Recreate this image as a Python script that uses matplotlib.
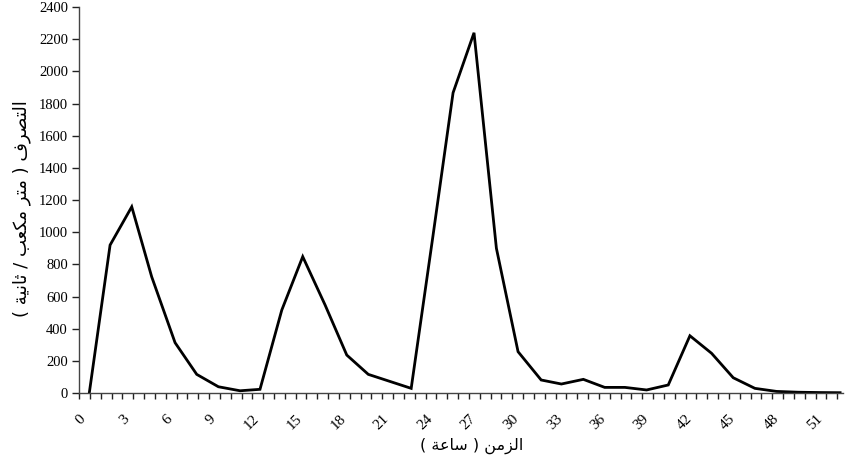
import matplotlib
matplotlib.use("Agg")
import matplotlib.pyplot as plt
from matplotlib.ticker import MultipleLocator

# ---- data ----
hours = [0.71, 2.15, 3.65, 5.03, 6.65, 8.15, 9.65, 11.15, 12.53, 14.04, 15.49,
         17.04, 18.54, 20.03, 23.0, 24.5, 25.9, 27.35, 28.9, 30.4, 32.0, 33.4,
         34.92, 36.4, 37.8, 39.3, 40.8, 42.3, 43.8, 45.3, 46.8, 48.3, 49.8,
         51.3, 52.7]
flow = [0, 920, 1158, 723, 313, 116, 39, 14, 23, 516, 848,
        547, 236, 116, 29, 972, 1867, 2240, 900, 257, 81, 56,
        85, 35, 35, 19, 50, 356, 247, 95, 29, 10, 5,
        3, 2]
x_tick_values = list(range(0, 52, 3))
x_tick_labels = [str(v) for v in x_tick_values]
y_tick_values = list(range(0, 2401, 200))
y_tick_labels = [str(v) for v in y_tick_values]
y_label_words = ["التصرف", "(", "متر", "مكعب", "/", "ثانية", ")"]   # logical order
x_label_words = ["الزمن", "(", "ساعة", ")"]                          # logical order

# ---- minimal Arabic shaping (presentation forms, visual order) ----
FORMS = {  # iso, fin, ini, med
    'ا': ('\uFE8D', '\uFE8E', None, None),
    'ب': ('\uFE8F', '\uFE90', '\uFE91', '\uFE92'),
    'ة': ('\uFE93', '\uFE94', None, None),
    'ت': ('\uFE95', '\uFE96', '\uFE97', '\uFE98'),
    'ث': ('\uFE99', '\uFE9A', '\uFE9B', '\uFE9C'),
    'ر': ('\uFEAD', '\uFEAE', None, None),
    'ز': ('\uFEAF', '\uFEB0', None, None),
    'س': ('\uFEB1', '\uFEB2', '\uFEB3', '\uFEB4'),
    'ص': ('\uFEB9', '\uFEBA', '\uFEBB', '\uFEBC'),
    'ع': ('\uFEC9', '\uFECA', '\uFECB', '\uFECC'),
    'ف': ('\uFED1', '\uFED2', '\uFED3', '\uFED4'),
    'ك': ('\uFED9', '\uFEDA', '\uFEDB', '\uFEDC'),
    'ل': ('\uFEDD', '\uFEDE', '\uFEDF', '\uFEE0'),
    'م': ('\uFEE1', '\uFEE2', '\uFEE3', '\uFEE4'),
    'ن': ('\uFEE5', '\uFEE6', '\uFEE7', '\uFEE8'),
    'ي': ('\uFEF1', '\uFEF2', '\uFEF3', '\uFEF4'),
}


def shape_word(w):
    out = []
    n = len(w)
    for i, c in enumerate(w):
        if c not in FORMS:
            out.append(c)
            continue
        f = FORMS[c]
        prev_joins = i > 0 and w[i - 1] in FORMS and FORMS[w[i - 1]][2] is not None
        next_joins = i < n - 1 and w[i + 1] in FORMS and f[2] is not None
        if prev_joins and next_joins:
            g = f[3]
        elif prev_joins:
            g = f[1]
        elif next_joins:
            g = f[2]
        else:
            g = f[0]
        out.append(g)
    return ''.join(reversed(out))


MIRROR = {'(': ')', ')': '('}


def rtl_visual(words):
    return ' '.join(MIRROR.get(w, shape_word(w)) for w in reversed(words))


# ---- figure ----
fig = plt.figure(figsize=(8.48, 4.69), dpi=100)
ax = fig.add_axes([0.0932, 0.162, 0.9009, 0.823])

ax.plot(hours, flow, color='black', lw=2.0, solid_joinstyle='miter')

ax.set_xlim(0, 52.9)
ax.set_ylim(0, 2400)
ax.set_xticks(x_tick_values)
ax.set_xticklabels(x_tick_labels, rotation=45, ha='right', va='top',
                   rotation_mode='anchor', family='Liberation Serif', fontsize=11)
ax.xaxis.set_minor_locator(MultipleLocator(0.75))
ax.set_yticks(y_tick_values)
ax.set_yticklabels(y_tick_labels, family='Liberation Serif', fontsize=10.5)

for s in ('top', 'right'):
    ax.spines[s].set_visible(False)
for s in ('left', 'bottom'):
    ax.spines[s].set_color('#444444')
    ax.spines[s].set_linewidth(1.0)

ax.tick_params(axis='x', which='both', direction='out', length=4, width=1,
               color='#222222', pad=10)
ax.tick_params(axis='y', which='major', direction='out', length=5, width=1,
               color='#222222', pad=3)

fig.text(0.026, 0.556, rtl_visual(y_label_words), rotation=90, ha='center',
         va='center', family='DejaVu Sans', fontsize=13)
fig.text(0.556, 0.05, rtl_visual(x_label_words), ha='center', va='center',
         family='DejaVu Sans', fontsize=11.5)

fig.savefig('out.png', dpi=100)
